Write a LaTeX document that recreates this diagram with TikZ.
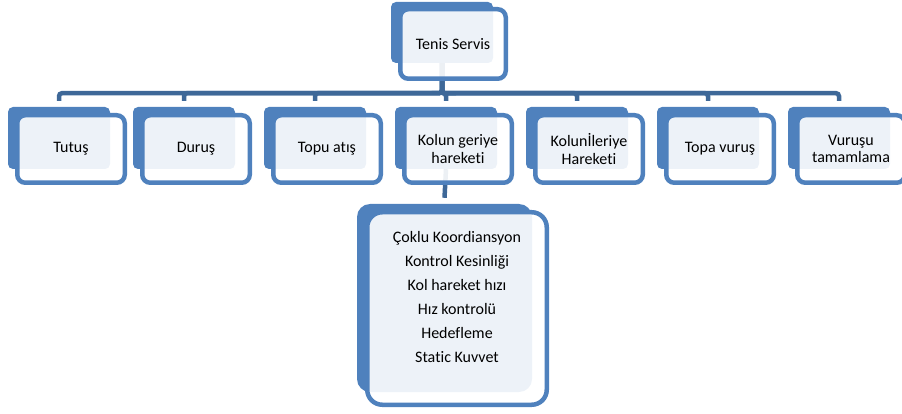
\documentclass[tikz,border=0pt]{standalone}
\usepackage{fontspec}
\setmainfont{Carlito}[Ligatures={NoCommon}]
\usepackage{tikz}
\usetikzlibrary{positioning,backgrounds}
\definecolor{kutumavi}{RGB}{79,129,189}
\definecolor{hatmavi}{RGB}{62,104,152}

\begin{document}
\begin{tikzpicture}[x=1pt, y=-1pt,
    arka/.style={rectangle, rounded corners=5pt, fill=kutumavi, draw=none,
                 minimum width=102pt, minimum height=62pt, inner sep=0pt},
    on/.style={rectangle, rounded corners=8pt, draw=kutumavi, line width=4.5pt,
               fill=white, fill opacity=0.9, text opacity=1, text=black,
               minimum width=107.5pt, minimum height=67.5pt, inner sep=0pt,
               align=center, font=\fontsize{16}{17.5}\selectfont},
    hat/.style={draw=hatmavi, line width=4.5pt, rounded corners=3pt}
]
    \useasboundingbox (0,0) rectangle (902,414);
    % ust kutu
    \node[arka, minimum height=61pt] (servisarka) at (442,32.5) {};
    % alt kutular
    \node[arka] (tutusarka) at (59,138) {};
    \node[arka] (durusarka) at (184,138) {};
    \node[arka] (topuarka) at (315,138) {};
    \node[arka] (geriarka) at (446,138) {};
    \node[arka] (ileriarka) at (577,138) {};
    \node[arka] (vurusarka) at (708,138) {};
    \node[arka] (tamamarka) at (839,138) {};
    \node[arka, rounded corners=13pt, minimum width=175pt, minimum height=188pt] (listearka) at (444.5,298) {};
    % baglantilar
    \begin{scope}[on background layer]
        \draw[hat] (servisarka.south) -- ++(0,30) -| ([yshift=6pt]tutusarka.north);
        \draw[hat] (servisarka.south) -- ++(0,30) -| ([yshift=6pt]durusarka.north);
        \draw[hat] (servisarka.south) -- ++(0,30) -| ([yshift=6pt]topuarka.north);
        \draw[hat] (servisarka.south) -- ++(0,30) -| ([yshift=6pt]geriarka.north);
        \draw[hat] (servisarka.south) -- ++(0,30) -| ([yshift=6pt]ileriarka.north);
        \draw[hat] (servisarka.south) -- ++(0,30) -| ([yshift=6pt]vurusarka.north);
        \draw[hat] (servisarka.south) -- ++(0,30) -| ([yshift=6pt]tamamarka.north);
        \draw[hat] (geriarka.south) -- ([yshift=6pt]listearka.north);
    \end{scope}
    % on kutular
    \node[on, minimum width=105.5pt, minimum height=69.5pt] (servis) at (453,44) {Tenis Servis};
    \node[on] (tutus) at (71,149) {Tutuş};
    \node[on] (durus) at (196,149) {Duruş};
    \node[on] (topu) at (327,149) {Topu atış};
    \node[on] (geri) at (458,149) {Kolun geriye\\hareketi};
    \node[on] (ileri) at (589,149) {Kolunİleriye\\Hareketi};
    \node[on] (vurus) at (720,149) {Topa vuruş};
    \node[on] (tamam) at (851,149) {Vuruşu\\tamamlama};
    \node[on, rounded corners=15pt, minimum width=179.5pt, minimum height=192.5pt] (liste) at (457,308.5) {};
    \node[align=center, font=\fontsize{16}{24}\selectfont] (maddeler) at (457,297)
        {Çoklu Koordiansyon\\Kontrol Kesinliği\\Kol hareket hızı\\Hız kontrolü\\Hedefleme\\Static Kuvvet};
\end{tikzpicture}
\end{document}
